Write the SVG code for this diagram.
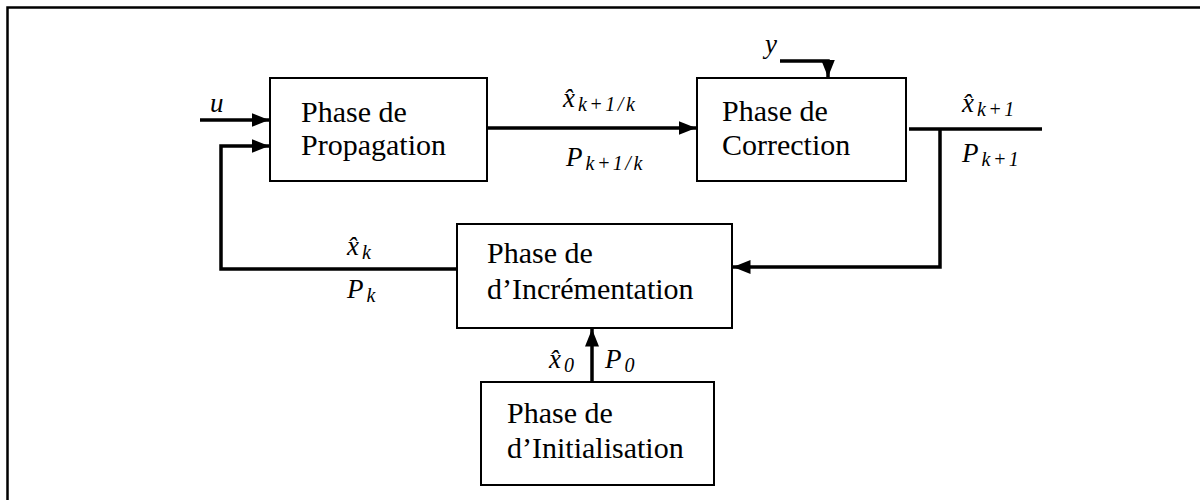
<svg xmlns="http://www.w3.org/2000/svg" width="1200" height="502" viewBox="0 0 1200 502">
<style>
.box{fill:#fff;stroke:#000;stroke-width:2}
.lbl{font-family:"Liberation Serif","Times New Roman",serif;font-size:30px;fill:#000}
.m{font-family:"Liberation Serif","Times New Roman",serif;font-style:italic;font-size:27px;fill:#000}
.s{font-size:20px;letter-spacing:2.5px}
.c{fill:none;stroke:#000;stroke-width:3.5}
</style>
<defs>
<marker id="ah" markerWidth="5" markerHeight="4" refX="5" refY="2" orient="auto" markerUnits="strokeWidth">
<path d="M0,0 L5,2 L0,4 Z" fill="#000"/>
</marker>
</defs>
<rect width="1200" height="502" fill="#fff"/>
<path d="M7.5,500 V7.5 H1200" fill="none" stroke="#000" stroke-width="2.5"/>
<g id="connectors">
<path class="c" d="M200,120 H269" marker-end="url(#ah)"/>
<path class="c" d="M457,269 H221 V146 H269" marker-end="url(#ah)"/>
<path class="c" d="M487,128 H696" marker-end="url(#ah)"/>
<path class="c" d="M780,61 H828 V77" marker-end="url(#ah)"/>
<path class="c" d="M909,129 H1042"/>
<path class="c" d="M940,129 V267 H733" marker-end="url(#ah)"/>
<path class="c" d="M592,382 V329" marker-end="url(#ah)"/>
</g>
<g id="propagation">
<rect class="box" x="270" y="78" width="217" height="103"/>
<text class="lbl" x="301" y="122">Phase de</text>
<text class="lbl" x="301" y="155">Propagation</text>
</g>
<g id="correction">
<rect class="box" x="697" y="78" width="209" height="103"/>
<text class="lbl" x="722" y="121">Phase de</text>
<text class="lbl" x="722" y="155">Correction</text>
</g>
<g id="incrementation">
<rect class="box" x="457" y="224" width="275" height="104"/>
<text class="lbl" x="487" y="263">Phase de</text>
<text class="lbl" x="487" y="299">d’Incrémentation</text>
</g>
<g id="initialisation">
<rect class="box" x="481" y="382" width="233" height="103"/>
<text class="lbl" x="507" y="423">Phase de</text>
<text class="lbl" x="507" y="458">d’Initialisation</text>
</g>
<g id="labels">
<text class="m" x="210" y="112">u</text>
<text class="m" x="765" y="53">y</text>
<text class="m" x="563" y="107">x̂<tspan class="s" dx="3" dy="4">k+1/k</tspan></text>
<text class="m" x="566" y="166">P<tspan class="s" dx="3" dy="4">k+1/k</tspan></text>
<text class="m" x="962" y="112">x̂<tspan class="s" dx="3" dy="4">k+1</tspan></text>
<text class="m" x="962" y="162">P<tspan class="s" dx="3" dy="4">k+1</tspan></text>
<text class="m" x="347" y="255">x̂<tspan class="s" dx="3" dy="4">k</tspan></text>
<text class="m" x="347" y="298">P<tspan class="s" dx="3" dy="4">k</tspan></text>
<text class="m" x="549" y="368">x̂<tspan class="s" dx="3" dy="4">0</tspan></text>
<text class="m" x="605" y="368">P<tspan class="s" dx="3" dy="4">0</tspan></text>
</g>
</svg>
